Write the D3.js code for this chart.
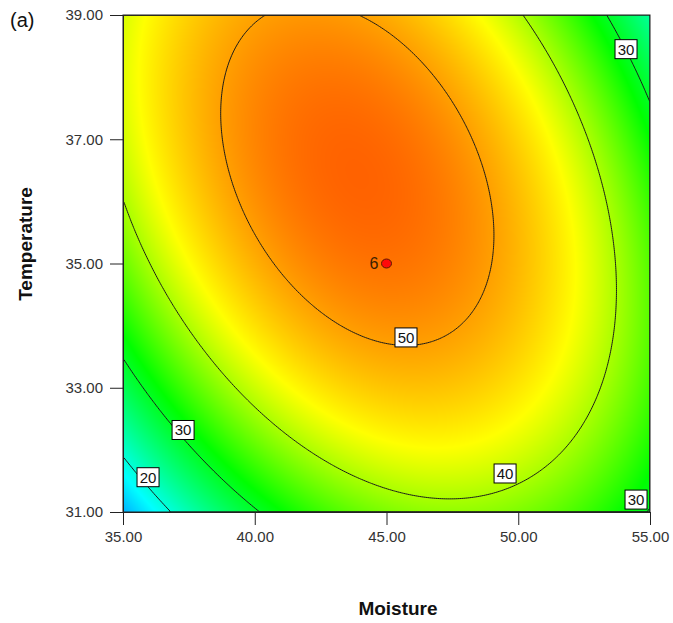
<!DOCTYPE html>
<html>
<head>
<meta charset="utf-8">
<script src="https://cdn.jsdelivr.net/npm/d3@7"></script>
<style>
body { margin: 0; background: #fff; }
text { font-family: Arial, "Liberation Sans", sans-serif; }
</style>
</head>
<body>
<div id="chart"></div>
<script>
// axis ticks
const moistureTicks = [35, 40, 45, 50, 55]
const temperatureTicks = [31, 33, 35, 37, 39]

// quadratic model, coded units: A = (Moisture-45)/10, B = (Temperature-35)/4
const modelTerms = ["Intercept", "A", "B", "AB", "A^2", "B^2"]
const modelCoefs = [52.8, -0.475, 5.7, -8.8, -16.4, -9.3]

const contourLevels = [20, 30, 40, 50]

// contour labels (where they sit on the lines)
const labelText = ["50", "40", "30", "20", "30", "30"]
const labelMoisture = [45.74, 49.50, 37.28, 35.95, 54.09, 54.47]
const labelTemperature = [33.81, 31.62, 32.32, 31.56, 38.45, 31.20]

// design points
const pointNames = ["6"]
const pointMoisture = [45]
const pointTemperature = [35]

let margin = { top: 15, right: 23, bottom: 111, left: 123 }
let width = 673 - margin.left - margin.right
let height = 623 - margin.top - margin.bottom

const response = (m, t) => {
    const a = (m - 45) / 10, b = (t - 35) / 4
    const c = modelCoefs
    return c[0] + c[1] * a + c[2] * b + c[3] * a * b + c[4] * a * a + c[5] * b * b
}

const color = d3.scaleLinear()
    .domain([2, 18, 32, 44, 60])
    .range(["#0000ff", "#00ffff", "#00ff00", "#ffff00", "#ff0000"])
    .clamp(true)

let svgRoot = d3.select("#chart")
    .append("svg")
    .attr("width", 673)
    .attr("height", 623)

let svg = svgRoot.append("g")
    .attr("transform", "translate(" + margin.left + "," + margin.top + ")")

var x = d3.scaleLinear().domain([35, 55]).range([0, width])
var y = d3.scaleLinear().domain([31, 39]).range([height, 0])

// colour surface, painted on a canvas and dropped in as an image
const canvas = document.createElement("canvas")
canvas.width = width
canvas.height = height
const ctx = canvas.getContext("2d")
const img = ctx.createImageData(width, height)
for (let j = 0; j < height; j++) {
    for (let i = 0; i < width; i++) {
        const c = d3.rgb(color(response(x.invert(i + 0.5), y.invert(j + 0.5))))
        const k = (j * width + i) * 4
        img.data[k] = c.r; img.data[k + 1] = c.g; img.data[k + 2] = c.b; img.data[k + 3] = 255
    }
}
ctx.putImageData(img, 0, 0)
svg.append("image")
    .attr("width", width)
    .attr("height", height)
    .attr("href", canvas.toDataURL())

svg.append("clipPath").attr("id", "plot-clip")
    .append("rect").attr("width", width).attr("height", height)

// contour lines
const nx = 264, ny = 249
const values = new Array(nx * ny)
for (let j = 0; j < ny; j++) {
    for (let i = 0; i < nx; i++) {
        values[j * nx + i] = response(x.invert((i + 0.5) * width / nx), y.invert((j + 0.5) * height / ny))
    }
}
const contours = d3.contours().size([nx, ny]).thresholds(contourLevels)(values)
const path = d3.geoPath(d3.geoTransform({
    point: function (px, py) { this.stream.point(px * width / nx, py * height / ny) }
}))
svg.append("g")
    .attr("clip-path", "url(#plot-clip)")
    .selectAll("path")
    .data(contours)
    .enter()
    .append("path")
    .attr("d", path)
    .attr("fill", "none")
    .attr("stroke", "#1a1a1a")
    .attr("stroke-width", 1)

// frame
svg.append("rect")
    .attr("width", width)
    .attr("height", height)
    .attr("fill", "none")
    .attr("stroke", "#222")

// contour labels
const labels = svg.append("g")
    .selectAll("g")
    .data(labelText)
    .enter()
    .append("g")
    .attr("transform", (d, i) => "translate(" + x(labelMoisture[i]) + "," + y(labelTemperature[i]) + ")")
labels.append("rect")
    .attr("x", -11).attr("y", -9.5)
    .attr("width", 22).attr("height", 19)
    .attr("fill", "#fff")
    .attr("stroke", "#000")
labels.append("text")
    .attr("text-anchor", "middle")
    .attr("dy", "0.36em")
    .style("font-size", "15px")
    .attr("fill", "#111")
    .text(d => d)

// design points
svg.append("g")
    .selectAll("ellipse")
    .data(pointNames)
    .enter()
    .append("ellipse")
    .attr("cx", (d, i) => x(pointMoisture[i]))
    .attr("cy", (d, i) => y(pointTemperature[i]))
    .attr("rx", 5).attr("ry", 4.5)
    .attr("fill", "#ff0a0a")
    .attr("stroke", "#5a1a00")
svg.append("g")
    .selectAll("text")
    .data(pointNames)
    .enter()
    .append("text")
    .attr("x", (d, i) => x(pointMoisture[i]) - 8)
    .attr("y", (d, i) => y(pointTemperature[i]))
    .attr("dy", "0.36em")
    .attr("text-anchor", "end")
    .style("font-size", "16px")
    .attr("fill", "#3a2000")
    .text(d => d)

// axes
const xAxis = svg.append("g")
    .attr("transform", "translate(0," + height + ")")
    .call(d3.axisBottom(x).tickValues(moistureTicks).tickFormat(d3.format(".2f")).tickSize(13).tickPadding(6))
const yAxis = svg.append("g")
    .call(d3.axisLeft(y).tickValues(temperatureTicks).tickFormat(d3.format(".2f")).tickSize(13).tickPadding(7))
for (const ax of [xAxis, yAxis]) {
    ax.select(".domain").attr("stroke", "#222")
    ax.selectAll(".tick line").attr("stroke", "#222")
    ax.selectAll(".tick text").style("font-size", "15px").attr("fill", "#333")
        .style("font-family", "Arial, 'Liberation Sans', sans-serif")
}

// titles
svgRoot.append("text")
    .attr("x", 398).attr("y", 615)
    .attr("text-anchor", "middle")
    .style("font-size", "19px").style("font-weight", "bold")
    .attr("fill", "#111")
    .text("Moisture")
svgRoot.append("text")
    .attr("transform", "translate(32,244) rotate(-90)")
    .attr("text-anchor", "middle")
    .style("font-size", "19px").style("font-weight", "bold")
    .attr("fill", "#111")
    .text("Temperature")
svgRoot.append("text")
    .attr("x", 10).attr("y", 27)
    .style("font-size", "20px")
    .attr("fill", "#111")
    .text("(a)")
</script>
</body>
</html>
